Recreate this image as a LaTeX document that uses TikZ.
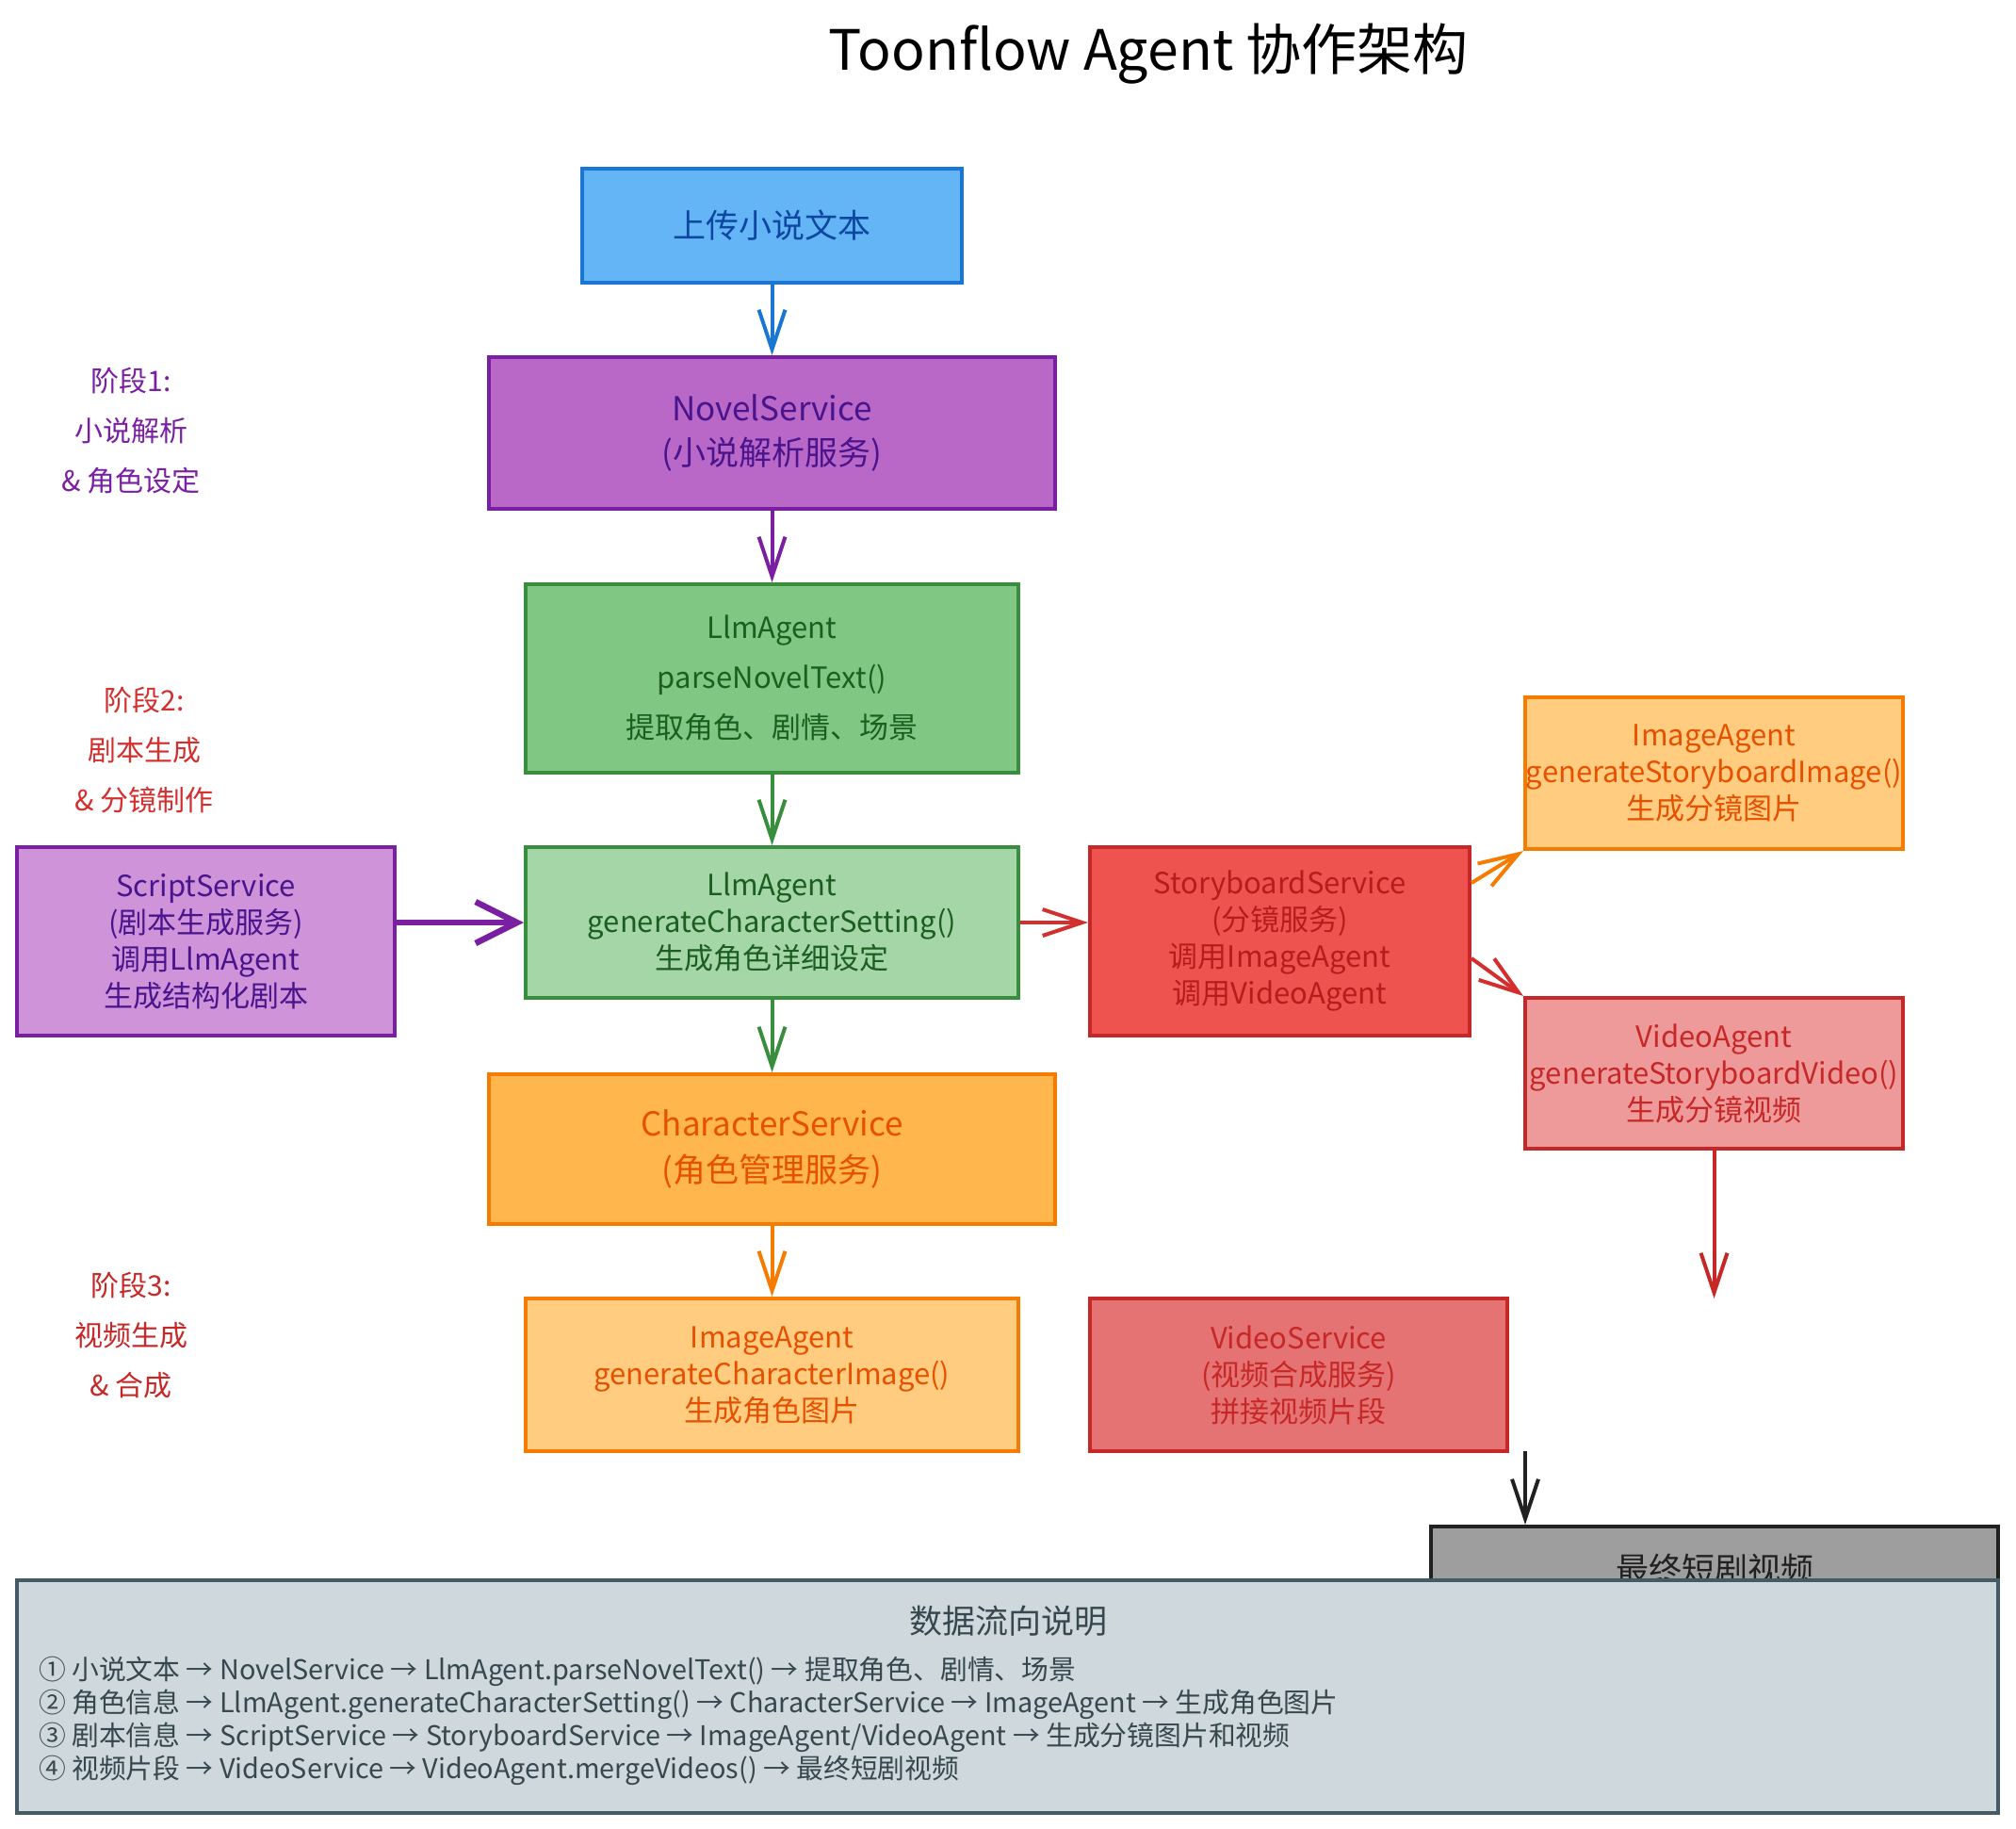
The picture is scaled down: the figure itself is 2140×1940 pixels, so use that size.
\documentclass[tikz,border=0pt]{standalone}
\usepackage{fontspec}
\setmainfont{Noto Sans CJK SC}
\usetikzlibrary{arrows.meta,calc}
\definecolor{bluefill}{HTML}{64B5F6}\definecolor{bluedraw}{HTML}{1976D2}\definecolor{bluetext}{HTML}{0D47A1}
\definecolor{purfill}{HTML}{BA68C8}\definecolor{purlight}{HTML}{CE93D8}\definecolor{purdraw}{HTML}{7B1FA2}\definecolor{purtext}{HTML}{4A148C}
\definecolor{grnfill}{HTML}{81C784}\definecolor{grnlight}{HTML}{A5D6A7}\definecolor{grndraw}{HTML}{388E3C}\definecolor{grntext}{HTML}{1B5E20}
\definecolor{orfill}{HTML}{FFB74D}\definecolor{orlight}{HTML}{FFCC80}\definecolor{ordraw}{HTML}{F57C00}\definecolor{ortext}{HTML}{E65100}
\definecolor{redfill}{HTML}{EF5350}\definecolor{redmid}{HTML}{E57373}\definecolor{pinkfill}{HTML}{EF9A9A}\definecolor{reddraw}{HTML}{C62828}\definecolor{redtext}{HTML}{B71C1C}\definecolor{redarrow}{HTML}{D32F2F}
\definecolor{grayfill}{HTML}{9E9E9E}\definecolor{blackdraw}{HTML}{212121}
\definecolor{legfill}{HTML}{CFD8DC}\definecolor{legdraw}{HTML}{455A64}\definecolor{legtext}{HTML}{37474F}
\begin{document}
\begin{tikzpicture}[x=0.5pt,y=-0.5pt,
  box/.style={draw, line width=2pt, rectangle, inner sep=0pt, align=center},
  bigtxt/.style={font=\fontsize{17.5}{23.5}\selectfont},
  midtxt/.style={font=\fontsize{15.5}{19.5}\selectfont},
  arr/.style={line width=2pt, -{Straight Barb[length=21pt,width=14pt,line width=2pt]}},
  stagetxt/.style={align=center, font=\fontsize{15}{26.5}\selectfont}
]
\useasboundingbox (0,0) rectangle (2140,1940);
\fill[white] (0,0) rectangle (2140,1940);

% title
\node[font=\fontsize{29.5}{32}\selectfont] (title) at (1219,57) {Toonflow Agent 协作架构};

% stage labels
\node[stagetxt, text=purdraw] (stage1) at (139,457) {阶段1:\\小说解析\\\& 角色设定};
\node[stagetxt, text=redarrow] (stage2) at (153,796) {阶段2:\\剧本生成\\\& 分镜制作};
\node[stagetxt, text=reddraw] (stage3) at (139,1417) {阶段3:\\视频生成\\\& 合成};

% boxes
\node[box, bigtxt, fill=bluefill, draw=bluedraw, text=bluetext, minimum width=201.5pt, minimum height=60.5pt] (up) at (819.5,239.5) {上传小说文本};
\node[box, bigtxt, fill=purfill, draw=purdraw, text=purtext, minimum width=300.5pt, minimum height=80.5pt] (novel) at (819.5,459.5) {NovelService\\(小说解析服务)};
\node[box, fill=grnfill, draw=grndraw, text=grntext, minimum width=261.5pt, minimum height=100pt, font=\fontsize{15.5}{26.5}\selectfont] (llm1) at (819.5,720) {LlmAgent\\parseNovelText()\\提取角色、剧情、场景};
\node[box, midtxt, fill=grnlight, draw=grndraw, text=grntext, minimum width=261.5pt, minimum height=80pt] (llm2) at (819.5,979) {LlmAgent\\generateCharacterSetting()\\生成角色详细设定};
\node[box, midtxt, fill=purlight, draw=purdraw, text=purtext, minimum width=200.5pt, minimum height=100pt] (script) at (218.5,999) {ScriptService\\(剧本生成服务)\\调用LlmAgent\\生成结构化剧本};
\node[box, bigtxt, fill=orfill, draw=ordraw, text=ortext, minimum width=300.5pt, minimum height=79.5pt, font=\fontsize{17.5}{24.5}\selectfont] (charsvc) at (819.5,1219.5) {CharacterService\\(角色管理服务)};
\node[box, midtxt, fill=orlight, draw=ordraw, text=ortext, minimum width=261.5pt, minimum height=81pt] (imgchar) at (819.5,1459) {ImageAgent\\generateCharacterImage()\\生成角色图片};
\node[box, midtxt, fill=redfill, draw=reddraw, text=redtext, minimum width=201.5pt, minimum height=100pt] (sb) at (1358.5,999) {StoryboardService\\(分镜服务)\\调用ImageAgent\\调用VideoAgent};
\node[box, midtxt, fill=orlight, draw=ordraw, text=ortext, minimum width=200.5pt, minimum height=80.5pt] (imgsb) at (1819.5,820.5) {ImageAgent\\generateStoryboardImage()\\生成分镜图片};
\node[box, midtxt, fill=pinkfill, draw=reddraw, text=reddraw, minimum width=200.5pt, minimum height=80pt] (vidag) at (1819.5,1139) {VideoAgent\\generateStoryboardVideo()\\生成分镜视频};
\node[box, midtxt, fill=redmid, draw=reddraw, text=reddraw, minimum width=221.5pt, minimum height=81pt] (vidsvc) at (1378.5,1459) {VideoService\\(视频合成服务)\\拼接视频片段};
\node[box, bigtxt, fill=grayfill, draw=blackdraw, text=blackdraw, minimum width=301pt, minimum height=45pt] (final) at (1820,1665) {最终短剧视频};

% connectors
\draw[arr, bluedraw] (up) -- (novel);
\draw[arr, purdraw] (novel) -- (llm1);
\draw[arr, grndraw] (llm1) -- (llm2);
\draw[arr, grndraw] (llm2) -- (charsvc);
\draw[arr, ordraw] (charsvc) -- (imgchar);
\draw[purdraw, line width=3.2pt, -{Straight Barb[length=22pt,width=22pt,line width=3.2pt]}] (llm2.west -| script.east) -- (llm2.west);
\draw[arr, redarrow] (llm2.east) -- (llm2.east -| sb.west);
\coordinate (sbA) at ($(sb.north east)+(0,40)$);
\coordinate (sbB) at ($(sb.north east)+(0,120)$);
\draw[arr, ordraw] (sbA) -- (imgsb.south west);
\draw[arr, redarrow] (sbB) -- (vidag.north west);
\coordinate (vaEnd) at (1819.5,1378);
\draw[arr, reddraw] (vidag.south) -- (vaEnd);
\coordinate (vsOut) at (1619,1540);
\draw[arr, blackdraw] (vsOut) -- (vsOut |- final.north);

% legend
\node[box, fill=legfill, draw=legdraw, minimum width=1051.5pt, minimum height=123.5pt] (legend) at (1069.5,1800.5) {};
\node[bigtxt, text=legtext] (legtitle) at (1070,1720) {数据流向说明};
\node[anchor=west, align=left, text=legtext, font=\fontsize{14.4}{17.5}\selectfont] (leglines) at (34,1826.5) {%
① 小说文本 → NovelService → LlmAgent.parseNovelText() → 提取角色、剧情、场景\\
② 角色信息 → LlmAgent.generateCharacterSetting() → CharacterService → ImageAgent → 生成角色图片\\
③ 剧本信息 → ScriptService → StoryboardService → ImageAgent/VideoAgent → 生成分镜图片和视频\\
④ 视频片段 → VideoService → VideoAgent.mergeVideos() → 最终短剧视频};
\end{tikzpicture}
\end{document}
